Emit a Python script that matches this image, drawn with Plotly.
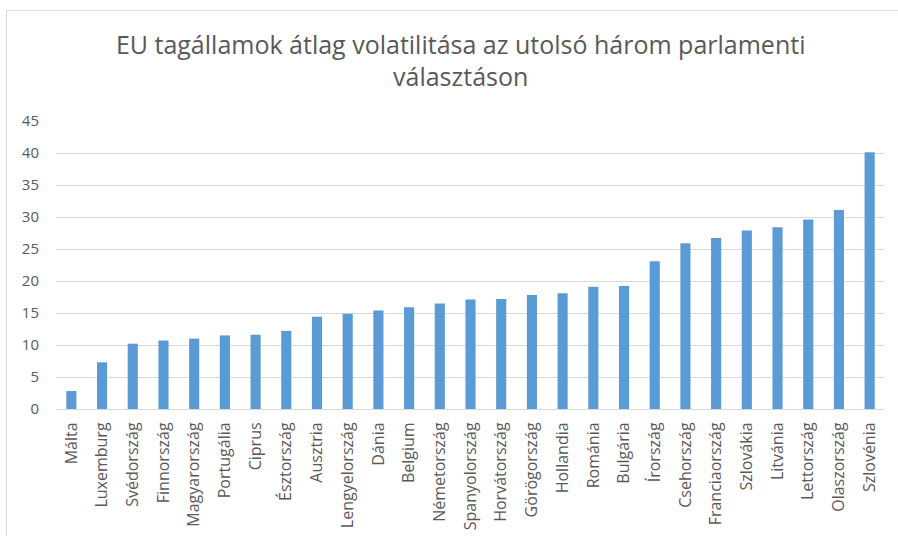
import plotly.graph_objects as go

countries = ["Málta", "Luxemburg", "Svédország", "Finnország", "Magyarország", "Portugália",
             "Ciprus", "Észtország", "Ausztria", "Lengyelország", "Dánia", "Belgium",
             "Németország", "Spanyolország", "Horvátország", "Görögország", "Hollandia",
             "Románia", "Bulgária", "Írország", "Csehország", "Franciaország", "Szlovákia",
             "Litvánia", "Lettország", "Olaszország", "Szlovénia"]
volatility = [2.8, 7.3, 10.2, 10.7, 11.0, 11.5, 11.6, 12.2, 14.4, 14.9, 15.4, 15.9,
              16.5, 17.1, 17.2, 17.8, 18.1, 19.1, 19.2, 23.1, 25.9, 26.7, 27.9,
              28.4, 29.6, 31.1, 40.1]
y_ticks = [0, 5, 10, 15, 20, 25, 30, 35, 40, 45]

title_text = "EU tagállamok átlag volatilitása az utolsó három parlamenti<br>választáson"

fig = go.Figure(go.Bar(x=countries, y=volatility, marker=dict(color="#5B9BD5", line=dict(width=0))))

font_family = "Open Sans, sans-serif"
fig.update_layout(
    width=898, height=536,
    margin=dict(l=56, r=13, t=121, b=127, autoexpand=False),
    paper_bgcolor="white", plot_bgcolor="white",
    bargap=0.67,
    showlegend=False,
    font=dict(family=font_family, color="#595959", size=15),
    title=dict(text=title_text, x=0.513, xanchor="center", xref="container",
               y=0.900, yanchor="middle", yref="container",
               font=dict(family=font_family, size=25, color="#595959")),
    xaxis=dict(tickangle=-90, showgrid=False, showline=True, linecolor="#D9D9D9", linewidth=1,
               ticks="", ticklabelstandoff=6, automargin=False,
               tickfont=dict(size=16, color="#595959")),
    yaxis=dict(range=[0, 45], tickvals=y_ticks, showgrid=True, gridcolor="#D9D9D9", gridwidth=1,
               zeroline=False, showline=False, ticks="", ticklabelstandoff=16, automargin=False,
               tickfont=dict(size=15, color="#595959")),
    shapes=[dict(type="rect", xref="paper", yref="paper", x0=-0.0597, x1=1.2, y0=-2, y1=1.384,
                 line=dict(color="#D9D9D9", width=1), fillcolor="rgba(0,0,0,0)", layer="below")],
)

fig.write_html("out.html", config={"displayModeBar": False},
               post_script="document.body.style.margin='0';document.body.style.overflow='hidden';")
